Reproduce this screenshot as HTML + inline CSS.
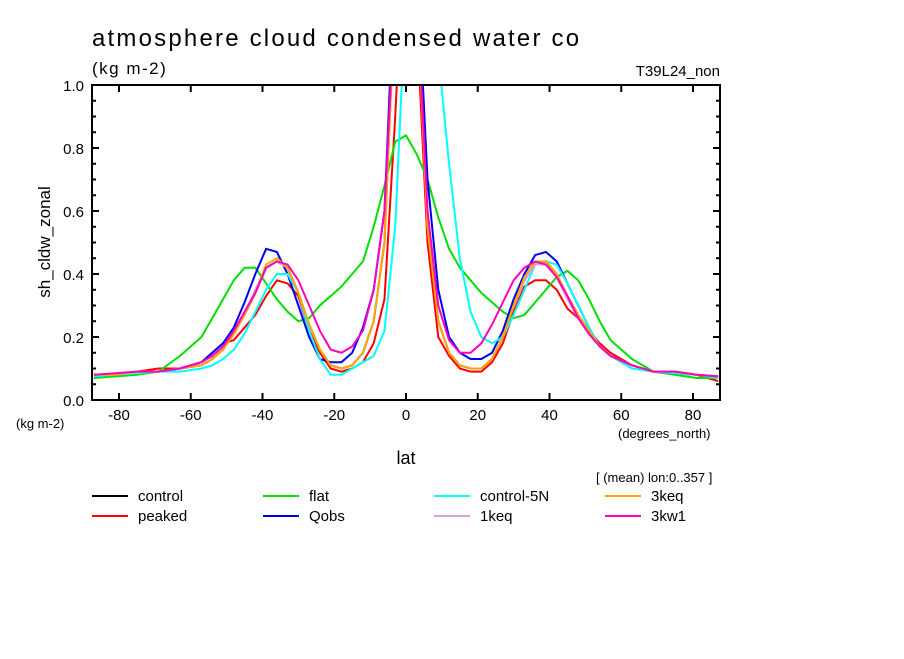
<!DOCTYPE html>
<html><head><meta charset="utf-8"><style>
body{margin:0;background:#fff;width:904px;height:654px;overflow:hidden}
text{font-family:"Liberation Sans",sans-serif}
</style></head><body>
<svg id="chart" width="904" height="654" viewBox="0 0 904 654" xmlns="http://www.w3.org/2000/svg">
<text x="92" y="46" font-size="24" letter-spacing="2.2">atmosphere cloud condensed water co</text>
<text x="92" y="74" font-size="17" letter-spacing="1.5">(kg m-2)</text>
<text x="720" y="76" font-size="15" text-anchor="end">T39L24_non</text>
<text transform="translate(50,242) rotate(-90)" font-size="17" text-anchor="middle">sh_cldw_zonal</text>
<text x="16" y="428" font-size="13">(kg m-2)</text>
<text x="618" y="438" font-size="13">(degrees_north)</text>
<text x="406" y="464" font-size="18" text-anchor="middle">lat</text>
<text x="596" y="482" font-size="13">[ (mean) lon:0..357 ]</text>
<defs><clipPath id="clip"><rect x="92" y="85" width="628" height="315"/></clipPath></defs>
<g id="axes"></g>
<g id="series" clip-path="url(#clip)"></g>
<rect x="92" y="85" width="628" height="315" fill="none" stroke="#000" stroke-width="2"/>
<g id="legend"></g>
</svg>
<script>
const lats=[-87,-81,-75,-69,-63,-57,-54,-51,-48,-45,-42,-39,-36,-33,-30,-27,-24,-21,-18,-15,-12,-9,-6,-3,0,3,6,9,12,15,18,21,24,27,30,33,36,39,42,45,48,51,54,57,63,69,75,81,87];
const control=[0.08,0.08,0.09,0.09,0.1,0.11,0.13,0.16,0.21,0.27,0.34,0.42,0.44,0.42,0.34,0.24,0.16,0.11,0.1,0.11,0.15,0.25,0.5,1.3,1.6,1.3,0.55,0.25,0.15,0.11,0.1,0.1,0.13,0.2,0.3,0.38,0.43,0.44,0.4,0.33,0.27,0.22,0.17,0.14,0.11,0.09,0.09,0.08,0.075];
const peaked=[0.07,0.08,0.09,0.1,0.1,0.12,0.15,0.18,0.19,0.23,0.27,0.33,0.38,0.37,0.33,0.22,0.15,0.1,0.09,0.1,0.12,0.18,0.32,0.9,1.6,1.2,0.5,0.2,0.14,0.1,0.09,0.09,0.12,0.18,0.28,0.36,0.38,0.38,0.35,0.29,0.26,0.22,0.18,0.15,0.11,0.09,0.09,0.08,0.06];
const flat=[0.07,0.075,0.08,0.09,0.14,0.2,0.26,0.32,0.38,0.42,0.42,0.37,0.32,0.28,0.25,0.26,0.3,0.33,0.36,0.4,0.44,0.55,0.68,0.82,0.84,0.78,0.7,0.58,0.48,0.42,0.38,0.34,0.31,0.28,0.26,0.27,0.31,0.35,0.39,0.41,0.38,0.32,0.25,0.19,0.13,0.09,0.08,0.07,0.07];
const qobs=[0.08,0.08,0.09,0.09,0.1,0.12,0.15,0.18,0.23,0.31,0.4,0.48,0.47,0.4,0.3,0.2,0.13,0.12,0.12,0.15,0.23,0.35,0.6,1.4,1.8,1.4,0.7,0.35,0.2,0.15,0.13,0.13,0.15,0.22,0.32,0.4,0.46,0.47,0.44,0.37,0.3,0.23,0.17,0.14,0.11,0.09,0.085,0.08,0.075];
const control5n=[0.075,0.08,0.085,0.09,0.09,0.1,0.11,0.13,0.16,0.21,0.28,0.35,0.4,0.4,0.34,0.22,0.13,0.08,0.08,0.1,0.12,0.14,0.22,0.55,1.3,1.6,1.4,1.1,0.75,0.45,0.28,0.2,0.18,0.2,0.27,0.35,0.43,0.44,0.43,0.37,0.3,0.23,0.17,0.14,0.1,0.09,0.085,0.08,0.07];
const keq1=[0.08,0.08,0.09,0.09,0.1,0.11,0.13,0.16,0.21,0.27,0.35,0.42,0.44,0.42,0.34,0.24,0.16,0.11,0.1,0.11,0.15,0.25,0.5,1.3,1.6,1.3,0.55,0.25,0.15,0.11,0.1,0.1,0.13,0.2,0.3,0.38,0.43,0.43,0.39,0.32,0.26,0.21,0.17,0.14,0.11,0.09,0.09,0.08,0.075];
const keq3=[0.08,0.08,0.09,0.09,0.1,0.11,0.13,0.16,0.21,0.27,0.34,0.43,0.45,0.42,0.34,0.24,0.16,0.11,0.1,0.11,0.15,0.25,0.5,1.3,1.6,1.3,0.55,0.25,0.15,0.11,0.1,0.1,0.13,0.2,0.3,0.39,0.44,0.44,0.4,0.33,0.27,0.22,0.17,0.14,0.11,0.09,0.09,0.08,0.075];
const kw13=[0.08,0.085,0.09,0.09,0.1,0.12,0.14,0.17,0.22,0.28,0.34,0.42,0.44,0.43,0.38,0.3,0.22,0.16,0.15,0.17,0.22,0.35,0.6,1.3,1.6,1.3,0.6,0.3,0.19,0.15,0.15,0.18,0.24,0.31,0.38,0.42,0.44,0.43,0.39,0.33,0.26,0.21,0.17,0.14,0.11,0.09,0.09,0.08,0.075];
const seriesNames=["control","peaked","flat","Qobs","control-5N","1keq","3keq","3kw1"];
const seriesColors=["#000000","#ff0000","#00e000","#0000ee","#00ffff","#dda0dd","#ffa500","#ff00c0"];
const seriesData=[control,peaked,flat,qobs,control5n,keq1,keq3,kw13];
const yTicks=[0,0.2,0.4,0.6,0.8,1.0];
const xTicks=[-80,-60,-40,-20,0,20,40,60,80];
const NS="http://www.w3.org/2000/svg";
const xs=v=>406+v*3.5875, ys=v=>400-v*315;
function mk(t,a,p){const e=document.createElementNS(NS,t);for(const k in a)e.setAttribute(k,a[k]);p.appendChild(e);return e;}
const ax=document.getElementById('axes');
for(let v=0;v<=1.0001;v+=0.05){const maj=Math.abs(v*5-Math.round(v*5))<1e-6;const L=maj?7:4;
 const t1=mk('line',{x1:92,x2:92+L,y1:ys(v),y2:ys(v),stroke:'#000','stroke-width':2},ax);
 
 const t2=mk('line',{x1:720,x2:720-L,y1:ys(v),y2:ys(v),stroke:'#000','stroke-width':2},ax);
 }
yTicks.forEach(v=>{const t=mk('text',{x:84,y:ys(v)+6,'font-size':15,'text-anchor':'end'},ax);t.textContent=v.toFixed(1);
 });
xTicks.forEach(v=>{const a=mk('line',{x1:xs(v),x2:xs(v),y1:400,y2:393,stroke:'#000','stroke-width':2},ax);
 
 const b=mk('line',{x1:xs(v),x2:xs(v),y1:85,y2:92,stroke:'#000','stroke-width':2},ax);
 
 const t=mk('text',{x:xs(v),y:420,'font-size':15,'text-anchor':'middle'},ax);t.textContent=v;
 });
const sg=document.getElementById('series');
seriesData.forEach((d,i)=>{const p=mk('polyline',{points:d.map((v,j)=>xs(lats[j])+','+ys(v)).join(' '),fill:'none',stroke:seriesColors[i],'stroke-width':2},sg);
 });
const lg=document.getElementById('legend');
const cols=[92,263,434,605];
const order=[0,2,4,6,1,3,5,7];
order.forEach((si,k)=>{const c=cols[k%4],y=k<4?496:516;
 const g=mk('g',{},lg);
 mk('line',{x1:c,x2:c+36,y1:y,y2:y,stroke:seriesColors[si],'stroke-width':2},g);
 const t=mk('text',{x:c+46,y:y+5,'font-size':15},g);t.textContent=seriesNames[si];});
</script>
</body></html>
